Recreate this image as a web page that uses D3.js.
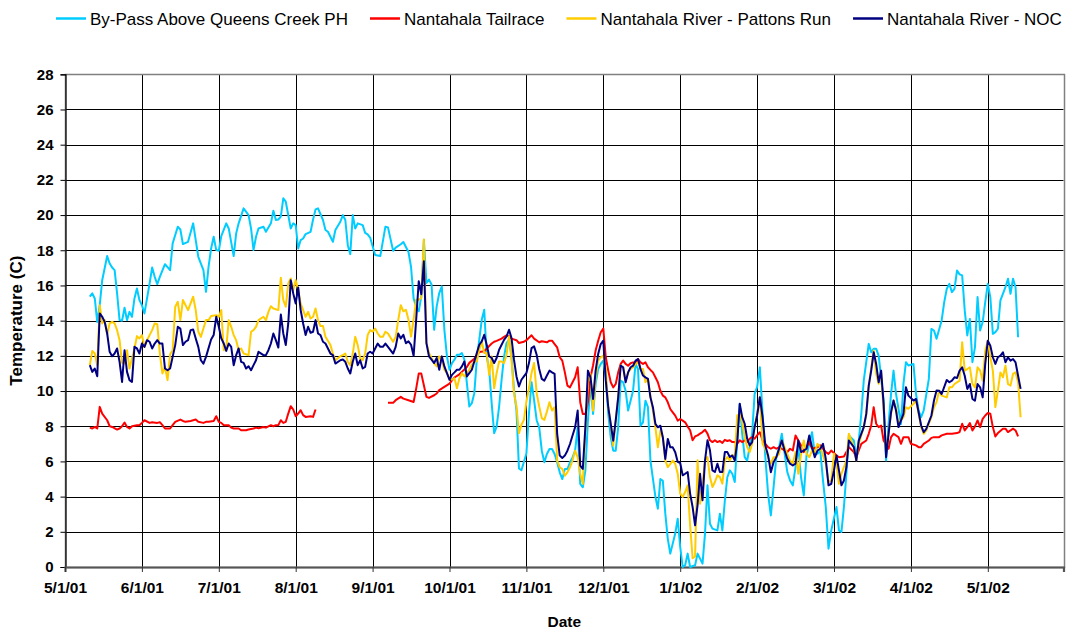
<!DOCTYPE html>
<html>
<head>
<meta charset="utf-8">
<script src="https://cdn.jsdelivr.net/npm/d3@7"></script>
<style>
  body { margin: 0; background: #fff; }
  svg text { font-family: "Liberation Sans", Arial, sans-serif; fill: #000; }
</style>
</head>
<body>
<svg id="chart" width="1073" height="633"></svg>
<script>
// ---- Data: daily water temperature (C), as [days after 5/1/01, temp] ----
const seriesNames = [
  "By-Pass Above Queens Creek PH",
  "Nantahala Tailrace",
  "Nantahala River - Pattons Run",
  "Nantahala River - NOC"
];

const bypass = [[10,15.36],[11,15.55],[12,15.26],[13,13.93],[14,14.88],[15,16.30],[17,17.67],[18,17.25],[19,17.02],[20,16.87],[21,15.55],[22,14.03],[23,13.99],[24,14.73],[25,14.03],[26,14.50],[27,14.22],[28,15.26],[29,15.83],[30,15.17],[31,14.88],[32,14.41],[34,16.11],[35,17.02],[36,16.49],[37,16.08],[38,16.49],[40,17.21],[42,16.87],[43,18.39],[45,19.34],[46,19.18],[47,18.35],[49,18.48],[51,19.53],[52,18.58],[53,17.63],[55,16.87],[56,15.64],[57,17.06],[58,18.10],[59,18.77],[60,18.01],[61,17.97],[62,18.81],[64,19.53],[65,19.24],[67,17.67],[68,18.96],[69,19.53],[71,20.38],[73,20.0],[74,19.24],[75,18.01],[76,18.77],[77,19.24],[79,19.34],[80,19.05],[82,19.53],[83,20.25],[84,19.72],[85,19.75],[86,19.91],[87,20.95],[88,20.76],[90,19.24],[91,19.53],[92,19.43],[93,18.10],[94,18.58],[95,18.67],[96,18.92],[98,19.05],[99,19.75],[100,20.32],[101,20.38],[103,19.72],[104,19.15],[105,19.05],[107,18.48],[108,19.15],[110,19.62],[111,20.0],[112,19.72],[113,18.29],[114,17.78],[115,20.0],[116,19.24],[117,19.53],[119,19.43],[120,18.99],[121,18.9],[122,18.72],[124,17.73],[126,17.67],[128,19.34],[129,19.30],[131,17.97],[132,18.15],[134,18.34],[135,18.47],[137,17.9],[138,17.05],[139,15.25],[140,14.81],[141,14.53],[142,15.38],[143,18.6],[144,16.14],[145,16.33],[146,16.05],[147,13.48],[148,14.81],[149,15.57],[150,15.95],[151,13.48],[152,11.97],[153,11.21],[154,11.59],[155,11.78],[156,12.06],[157,12.06],[158,12.16],[159,11.78],[160,10.45],[161,9.12],[162,9.31],[163,9.88],[164,11.78],[165,12.92],[166,14.05],[167,14.62],[168,11.97],[169,11.21],[170,9.31],[171,7.60],[172,7.98],[173,9.12],[174,10.64],[175,11.97],[176,12.73],[177,12.92],[178,11.97],[179,10.07],[180,8.9],[181,5.6],[182,5.5],[184,6.45],[185,8.72],[186,10.5],[187,9.48],[188,8.34],[189,7.94],[190,6.61],[191,5.95],[192,6.42],[193,6.71],[194,6.71],[195,6.42],[196,5.95],[197,5.38],[198,5.0],[199,5.57],[200,5.57],[201,5.95],[202,6.23],[203,6.61],[204,7.94],[205,4.72],[206,4.53],[207,5.48],[208,8.32],[209,10.40],[210,8.70],[211,10.40],[212,11.25],[213,11.54],[214,11.73],[215,10.78],[216,8.70],[217,7.37],[218,6.61],[219,6.61],[220,7.94],[221,10.59],[222,10.50],[223,10.02],[224,8.89],[225,9.45],[226,10.02],[227,11.54],[228,11.25],[229,8.03],[230,8.22],[231,9.45],[232,9.08],[233,6.05],[235,4.0],[236,3.31],[237,5.0],[238,4.9],[239,3.03],[240,1.6],[241,0.76],[243,1.9],[244,2.74],[245,1.14],[246,0.0],[247,0.1],[248,0.76],[249,0.0],[251,0.1],[252,0.76],[254,0.19],[255,1.9],[256,4.64],[257,2.46],[258,2.18],[260,2.08],[261,3.03],[262,2.08],[263,3.78],[264,5.1],[265,5.49],[266,5.3],[267,4.83],[268,7.19],[269,9.27],[270,7.57],[271,6.24],[272,6.05],[274,7.57],[275,9.84],[276,10.22],[277,11.35],[278,8.7],[279,6.24],[280,4.16],[281,2.93],[282,4.54],[283,6.24],[284,6.81],[285,7.57],[287,5.39],[288,4.92],[289,4.64],[290,5.68],[291,6.81],[292,5.1],[293,4.07],[294,6.34],[296,7.66],[297,6.43],[298,6.43],[299,6.62],[300,4.92],[301,3.41],[302,1.04],[303,2.08],[305,3.41],[306,2.08],[307,1.99],[308,3.41],[309,5.3],[310,7.47],[312,7.19],[313,6.24],[314,7.19],[315,8.7],[316,10.6],[318,12.68],[319,12.2],[320,12.4],[321,12.4],[322,12.01],[324,9.46],[325,6.05],[326,8.13],[327,9.84],[328,11.16],[329,9.84],[331,8.13],[332,10.41],[333,11.64],[334,11.45],[336,11.54],[337,9.84],[338,8.9],[339,8.51],[340,8.9],[342,10.69],[343,13.53],[344,13.44],[345,12.97],[347,14.01],[348,15.05],[349,15.81],[350,16.09],[351,15.62],[352,15.81],[353,16.85],[354,16.63],[355,16.57],[356,14.58],[357,13.16],[358,14.1],[359,11.64],[360,12.5],[361,15.34],[362,13.44],[363,13.92],[364,15.05],[365,16.09],[366,15.34],[367,13.25],[368,13.35],[369,13.54],[370,15.15],[372,15.9],[373,16.38],[374,15.53],[375,16.38],[376,15.9],[377,13.06]];

// null marks the gap in the tailrace record (no readings mid-Aug to early Sep)
const tailrace = [[10,7.92],[11,7.87],[12,7.96],[13,7.87],[14,9.1],[15,8.72],[17,8.34],[18,8.0],[19,7.96],[21,7.81],[22,7.87],[23,8.0],[24,8.21],[25,7.96],[26,7.87],[27,8.0],[29,8.06],[30,8.06],[31,8.19],[32,8.34],[34,8.19],[35,8.23],[37,8.19],[38,8.23],[39,8.06],[40,7.87],[42,7.87],[43,8.06],[44,8.25],[46,8.38],[47,8.3],[48,8.25],[50,8.3],[52,8.38],[53,8.25],[55,8.19],[56,8.25],[57,8.25],[59,8.3],[60,8.57],[61,8.25],[62,8.19],[63,8.06],[65,8.06],[66,7.92],[67,7.87],[69,7.87],[70,7.77],[72,7.77],[73,7.81],[75,7.87],[76,7.92],[77,7.89],[79,7.96],[80,7.92],[82,8.06],[83,8.0],[84,8.06],[85,8.06],[86,8.34],[87,8.19],[88,8.25],[89,8.72],[90,9.14],[91,8.95],[92,8.57],[93,8.72],[94,8.91],[95,8.63],[96,8.53],[98,8.57],[99,8.53],[100,8.95],[114,null],[129,9.33],[131,9.33],[132,9.48],[134,9.67],[135,9.57],[137,9.48],[139,9.38],[140,10.14],[141,10.99],[142,10.99],[143,10.33],[144,9.67],[145,9.61],[147,9.76],[148,9.86],[149,10.05],[151,10.24],[153,10.42],[154,10.61],[155,10.77],[157,10.95],[158,11.09],[160,11.37],[161,11.6],[163,11.84],[164,12.03],[165,12.22],[167,12.26],[168,12.41],[170,12.7],[171,12.8],[172,12.85],[174,12.98],[175,13.08],[176,13.17],[177,13.11],[178,12.98],[180,12.89],[181,12.73],[183,12.8],[184,12.89],[186,13.17],[187,12.98],[189,12.77],[190,12.83],[192,12.77],[193,12.86],[194,12.86],[195,12.67],[196,12.48],[197,11.92],[198,11.73],[199,11.06],[200,10.31],[201,10.21],[202,10.50],[203,10.78],[204,11.35],[205,9.36],[206,8.70],[207,8.70],[208,9.36],[209,10.78],[210,11.45],[211,12.30],[212,12.86],[213,13.34],[214,13.55],[215,11.92],[216,11.16],[217,10.50],[218,10.21],[219,10.40],[220,11.06],[221,11.54],[222,11.73],[223,11.54],[224,11.44],[225,11.58],[226,11.63],[227,11.54],[228,11.82],[229,11.63],[230,11.54],[231,11.63],[232,11.35],[233,11.20],[234,11.06],[235,10.78],[236,10.50],[237,10.02],[238,9.74],[239,9.64],[240,9.36],[241,8.98],[242,8.79],[243,8.60],[244,8.32],[245,8.41],[246,8.32],[247,8.22],[248,7.98],[249,7.77],[250,7.20],[251,7.42],[252,7.48],[253,7.58],[254,7.67],[255,7.80],[256,7.58],[257,7.20],[258,7.10],[259,7.20],[260,7.10],[261,7.16],[262,7.05],[263,7.23],[264,7.16],[265,7.20],[266,7.10],[267,7.10],[268,7.01],[269,7.20],[270,7.10],[271,7.20],[272,7.10],[273,7.29],[274,7.39],[275,7.29],[276,7.48],[277,7.66],[278,7.20],[279,7.0],[280,6.81],[281,6.72],[282,6.81],[283,6.72],[284,6.81],[285,6.72],[287,6.53],[288,6.72],[289,6.62],[290,7.47],[292,6.91],[293,6.53],[294,6.81],[295,7.1],[296,6.72],[298,6.81],[299,6.91],[300,6.72],[301,6.53],[302,6.43],[303,6.62],[305,6.34],[306,6.24],[308,6.28],[309,6.53],[310,6.81],[312,6.53],[313,6.24],[314,6.62],[315,7.0],[317,7.19],[318,7.57],[319,8.04],[320,9.08],[321,8.14],[322,7.95],[323,8.04],[324,7.19],[326,6.72],[327,7.38],[328,7.57],[330,7.38],[331,7.0],[332,7.38],[334,7.38],[335,7.0],[337,6.91],[338,6.81],[339,6.81],[340,7.0],[342,7.19],[343,7.34],[344,7.38],[346,7.38],[347,7.48],[349,7.57],[351,7.57],[353,7.61],[354,7.67],[355,8.14],[356,7.76],[357,7.95],[358,8.18],[359,7.76],[360,7.99],[361,8.33],[362,7.95],[363,8.42],[364,8.61],[365,8.75],[366,8.71],[367,7.95],[368,7.42],[369,7.61],[371,7.86],[372,7.86],[373,7.67],[374,7.76],[375,7.86],[376,7.76],[377,7.42]];

const pattonsRun = [[10,11.47],[11,12.28],[12,12.13],[13,11.47],[14,14.88],[15,13.84],[16,14.03],[17,13.23],[18,13.84],[19,13.93],[20,13.84],[21,13.46],[22,12.89],[23,11.60],[24,11.56],[25,12.32],[26,11.28],[27,11.85],[28,12.42],[29,13.12],[30,12.99],[31,13.18],[32,12.51],[33,12.89],[34,13.18],[35,13.46],[36,13.84],[37,13.80],[38,12.13],[39,11.0],[40,11.37],[41,10.62],[42,12.09],[43,12.32],[44,14.79],[45,15.07],[46,14.03],[47,15.17],[49,14.60],[50,14.98],[51,15.36],[52,14.60],[53,13.37],[54,13.08],[55,13.55],[56,14.03],[57,14.03],[58,14.26],[60,14.31],[61,14.22],[62,14.60],[63,12.32],[64,12.42],[65,14.03],[66,13.65],[67,13.18],[68,12.89],[69,12.32],[70,12.42],[71,12.13],[73,12.04],[74,13.37],[75,13.46],[76,13.65],[77,14.03],[79,14.22],[80,14.03],[81,14.50],[82,14.82],[83,14.69],[85,14.60],[86,16.44],[87,15.17],[88,14.79],[89,16.11],[90,16.40],[91,15.73],[92,16.30],[93,15.73],[94,14.98],[95,14.60],[96,14.22],[97,14.50],[98,14.12],[99,14.22],[100,14.69],[101,14.03],[102,13.69],[103,13.69],[104,13.08],[106,12.61],[107,12.13],[108,11.75],[110,11.98],[111,12.04],[112,12.13],[113,11.66],[114,11.47],[115,12.13],[116,13.08],[117,12.61],[118,11.85],[119,11.75],[120,12.13],[121,13.18],[122,13.46],[123,13.37],[124,13.55],[125,13.27],[126,13.08],[127,13.08],[128,13.37],[129,13.27],[131,12.80],[132,13.08],[133,14.03],[134,14.88],[135,14.53],[136,14.62],[137,14.05],[138,13.10],[139,14.05],[140,15.19],[141,15.19],[142,15.29],[143,18.61],[144,12.73],[145,12.16],[146,11.87],[147,11.59],[148,11.40],[149,11.97],[150,11.78],[151,11.21],[152,11.02],[153,10.73],[154,10.64],[155,10.73],[156,10.16],[157,10.73],[158,11.02],[159,10.83],[160,11.02],[161,11.21],[162,11.49],[163,11.68],[164,11.68],[165,12.35],[166,12.82],[167,12.16],[168,12.16],[169,10.92],[170,11.97],[171,10.16],[172,11.02],[173,11.68],[174,11.68],[175,11.59],[176,12.06],[177,13.10],[178,11.78],[179,9.88],[180,9.12],[181,7.60],[182,8.08],[183,8.36],[184,9.40],[185,10.16],[186,11.02],[187,11.59],[188,9.88],[189,9.12],[190,8.46],[191,8.36],[192,8.83],[193,9.36],[194,8.89],[195,9.08],[196,6.05],[197,5.67],[198,5.57],[199,5.19],[200,5.38],[201,5.67],[202,6.05],[203,6.61],[204,6.23],[205,5.29],[206,4.72],[207,7.75],[208,10.50],[209,10.97],[210,8.89],[211,10.78],[212,11.73],[213,11.92],[214,12.01],[215,11.25],[216,9.08],[217,8.13],[218,6.90],[219,8.32],[220,9.64],[221,11.44],[222,11.35],[223,10.59],[224,11.06],[225,11.25],[226,11.35],[227,11.54],[228,11.63],[229,11.25],[230,11.25],[231,10.50],[232,10.69],[233,9.74],[234,8.89],[235,7.94],[236,6.80],[237,7.75],[238,7.37],[239,6.05],[240,5.67],[241,5.86],[242,6.05],[243,5.86],[244,5.3],[245,4.17],[246,3.98],[247,4.26],[248,4.64],[249,2.37],[250,0.5],[251,0.6],[252,6.06],[253,3.60],[254,4.73],[255,6.06],[256,6.25],[257,5.11],[258,4.55],[259,4.83],[260,5.21],[261,5.11],[262,4.73],[263,6.06],[264,6.25],[265,6.06],[266,6.34],[267,6.34],[268,8.62],[269,8.71],[270,8.24],[271,7.39],[272,6.82],[273,6.53],[274,7.01],[275,7.95],[276,8.70],[277,9.65],[278,7.0],[279,6.72],[280,6.24],[281,5.87],[282,6.24],[283,6.24],[284,6.43],[285,7.19],[287,6.43],[288,6.05],[289,5.87],[290,6.53],[291,5.30],[292,6.43],[293,7.19],[294,6.43],[295,6.24],[296,6.62],[297,6.53],[298,7.00],[299,6.81],[301,5.87],[302,4.83],[303,4.92],[304,6.43],[305,5.87],[306,4.73],[307,5.30],[309,6.05],[310,7.57],[312,6.81],[313,6.05],[314,7.00],[316,7.95],[317,8.61],[318,10.22],[319,11.35],[320,12.30],[321,10.97],[322,10.41],[323,11.07],[324,8.89],[325,6.43],[326,7.57],[327,8.70],[328,9.46],[329,9.08],[330,8.14],[332,8.51],[333,9.08],[334,8.99],[336,9.27],[337,9.46],[338,8.70],[339,7.95],[340,7.57],[341,7.76],[343,8.51],[344,9.08],[345,9.37],[346,10.02],[347,9.74],[349,9.64],[350,10.21],[351,10.21],[352,10.40],[354,10.59],[355,12.77],[356,11.16],[357,11.25],[358,11.35],[359,10.40],[360,10.21],[361,11.35],[362,11.16],[363,10.59],[364,12.30],[365,12.86],[366,11.92],[367,11.16],[368,9.08],[369,10.02],[370,11.06],[371,10.78],[372,11.44],[373,10.40],[374,10.31],[375,10.97],[376,11.06],[377,10.50],[378,8.51]];

const noc = [[10,11.47],[11,11.09],[12,11.28],[13,10.84],[14,14.41],[15,14.22],[16,13.93],[17,13.27],[18,12.23],[19,11.98],[20,12.13],[21,12.42],[22,11.66],[23,10.52],[24,12.32],[25,11.09],[26,10.62],[27,10.52],[28,12.51],[29,12.42],[30,12.13],[31,12.70],[32,12.51],[33,12.89],[34,12.80],[35,12.42],[36,12.70],[37,12.89],[38,12.70],[39,12.70],[40,11.28],[41,11.18],[42,11.28],[43,11.94],[44,12.61],[45,13.65],[46,13.55],[47,12.61],[48,12.80],[49,12.89],[50,13.46],[51,13.50],[52,12.99],[53,12.51],[54,11.75],[55,11.56],[56,11.94],[58,12.93],[59,13.18],[60,14.22],[61,13.65],[62,12.99],[63,12.70],[64,12.28],[65,12.70],[66,12.51],[67,11.47],[68,12.04],[69,12.42],[70,11.66],[71,11.60],[72,11.28],[73,11.41],[74,11.18],[75,11.47],[76,11.75],[77,12.23],[79,12.04],[80,12.04],[81,12.32],[82,12.70],[83,13.27],[84,12.89],[85,12.47],[86,14.35],[87,13.27],[88,12.61],[89,13.84],[90,16.30],[91,15.55],[92,14.98],[93,15.89],[94,14.60],[95,13.84],[96,13.18],[97,13.65],[98,13.31],[99,13.37],[100,14.03],[101,13.27],[102,13.18],[103,12.80],[104,12.70],[106,12.13],[107,12.04],[108,11.56],[110,11.75],[111,11.79],[112,11.66],[113,11.28],[114,11.0],[115,11.66],[116,12.13],[117,11.47],[118,11.75],[119,11.28],[120,11.37],[121,12.13],[122,12.23],[123,12.13],[124,12.42],[125,12.70],[126,12.51],[127,12.51],[128,12.70],[129,12.51],[131,12.13],[132,12.51],[133,13.27],[134,12.99],[135,13.20],[136,12.72],[137,12.82],[138,12.63],[139,12.00],[140,14.05],[141,16.24],[142,15.5],[143,17.37],[144,12.72],[145,11.97],[146,11.78],[147,11.59],[148,11.88],[149,11.21],[150,11.97],[151,11.40],[152,11.02],[153,10.64],[154,10.92],[155,11.06],[156,11.21],[157,11.21],[158,11.40],[159,11.68],[160,10.83],[161,11.02],[162,11.21],[163,11.68],[164,12.16],[165,12.63],[166,12.82],[167,13.20],[168,12.63],[169,11.97],[170,11.88],[171,11.59],[172,11.88],[173,12.35],[174,12.63],[175,12.91],[176,13.10],[177,13.48],[178,13.01],[179,11.78],[180,10.83],[181,10.26],[182,10.64],[183,10.83],[184,11.02],[185,11.59],[186,12.44],[187,12.54],[188,12.06],[189,11.25],[190,10.69],[191,10.59],[192,10.88],[193,11.16],[194,11.06],[195,10.97],[196,7.56],[197,6.33],[198,6.20],[199,6.33],[200,6.61],[201,6.99],[202,7.47],[203,7.94],[204,8.89],[205,5.76],[206,5.57],[207,7.94],[208,11.16],[209,10.78],[210,9.55],[211,11.16],[212,12.11],[213,12.67],[214,12.86],[215,10.59],[216,9.08],[217,8.13],[218,7.18],[219,8.32],[220,9.64],[221,11.44],[222,11.35],[223,10.50],[224,11.06],[225,11.35],[226,11.44],[227,11.73],[228,11.82],[229,11.25],[230,10.88],[231,10.78],[232,10.69],[233,9.64],[234,9.08],[235,8.13],[236,7.94],[237,8.03],[238,7.37],[239,6.14],[240,7.28],[241,6.80],[242,6.80],[243,6.52],[244,5.97],[245,5.91],[246,5.21],[247,5.30],[248,5.40],[249,4.17],[250,3.41],[251,2.37],[252,3.52],[253,5.30],[254,3.79],[255,6.06],[256,7.20],[257,6.63],[258,5.49],[259,5.40],[260,5.87],[261,5.40],[262,5.40],[263,6.53],[264,6.53],[265,6.25],[266,6.34],[267,6.06],[268,7.10],[269,9.28],[270,8.52],[271,8.14],[272,7.29],[273,6.91],[274,7.10],[275,7.95],[276,8.61],[277,9.65],[278,8.51],[279,6.91],[280,6.34],[281,5.39],[282,5.96],[283,6.24],[284,6.72],[285,7.19],[286,6.62],[287,6.15],[288,5.87],[289,5.77],[290,5.87],[291,7.19],[292,6.53],[293,6.62],[294,6.72],[295,7.47],[296,6.81],[297,6.24],[298,6.62],[299,6.72],[300,7.00],[301,6.15],[302,4.64],[303,4.73],[304,5.49],[305,6.34],[306,5.49],[307,4.64],[308,4.92],[309,5.68],[310,7.19],[312,6.81],[313,6.05],[314,7.19],[316,7.95],[317,8.70],[318,10.31],[319,11.16],[320,12.20],[321,11.54],[322,10.50],[323,11.16],[324,9.27],[325,6.24],[326,7.57],[327,8.80],[328,9.46],[329,8.89],[330,7.95],[332,8.70],[333,10.22],[334,9.74],[336,9.46],[337,9.55],[338,8.80],[339,8.04],[340,7.66],[341,7.85],[343,8.61],[344,9.46],[345,10.03],[346,10.02],[347,9.83],[349,10.63],[350,10.50],[351,10.59],[352,10.78],[353,10.74],[354,11.16],[355,11.35],[356,10.87],[357,10.12],[358,10.40],[359,9.55],[360,9.45],[361,10.40],[362,10.21],[363,9.64],[364,11.54],[365,12.86],[366,12.58],[367,11.92],[368,11.54],[369,11.92],[370,12.01],[371,12.20],[372,11.63],[373,11.92],[374,11.73],[375,11.82],[376,11.63],[377,10.87],[378,10.12]];

const xTickLabels = ["5/1/01","6/1/01","7/1/01","8/1/01","9/1/01","10/1/01","11/1/01","12/1/01","1/1/02","2/1/02","3/1/02","4/1/02","5/1/02"];
const yTickValues = [0,2,4,6,8,10,12,14,16,18,20,22,24,26,28];

// ---- Presentation ----
const colors = ["#00CCFF", "#FF0000", "#FFCC00", "#000080"];
const plot = { left: 65, right: 1063.5, top: 74.3, bottom: 567 };
const monthStep = 76.9;

const svg = d3.select("#chart");
svg.append("rect").attr("width", 1073).attr("height", 633).attr("fill", "#fff");

const startDate = new Date(2001, 4, 1);
const toDate = d => d3.timeDay.offset(startDate, d);

// Month starts are evenly spaced along the date axis
const monthStarts = xTickLabels.map(s => d3.timeParse("%m/%d/%y")(s));
const axisEnd = new Date(2002, 4, 31);
const x = d3.scaleTime()
  .domain([...monthStarts, axisEnd])
  .range([...monthStarts.map((_, i) => plot.left + i * monthStep), plot.right]);

const y = d3.scaleLinear().domain([0, 28]).range([plot.bottom, plot.top]);

const crisp = v => Math.round(v) + 0.5;

// Horizontal gridlines
svg.append("g").selectAll("line")
  .data(yTickValues.filter(v => v > 0 && v < 28))
  .join("line")
  .attr("x1", plot.left).attr("x2", plot.right)
  .attr("y1", d => crisp(y(d))).attr("y2", d => crisp(y(d)))
  .attr("stroke", "#000").attr("stroke-width", 1);

// Vertical gridlines at month starts
svg.append("g").selectAll("line")
  .data(monthStarts.slice(1))
  .join("line")
  .attr("x1", d => crisp(x(d))).attr("x2", d => crisp(x(d)))
  .attr("y1", plot.top).attr("y2", plot.bottom)
  .attr("stroke", "#000").attr("stroke-width", 1);

// Plot-area frame
svg.append("rect")
  .attr("x", crisp(plot.left)).attr("y", crisp(plot.top))
  .attr("width", Math.round(plot.right) - Math.round(plot.left))
  .attr("height", Math.round(plot.bottom) - Math.round(plot.top))
  .attr("fill", "none").attr("stroke", "#808080").attr("stroke-width", 1.5);

// Y axis
const yAxis = svg.append("g")
  .attr("transform", `translate(${crisp(plot.left)},0)`)
  .call(d3.axisLeft(y).tickValues(yTickValues).tickSize(5).tickPadding(7).tickFormat(d3.format("d")));
yAxis.select(".domain").attr("stroke", "#000").attr("stroke-width", 1.2);
yAxis.selectAll(".tick line").attr("stroke", "#000");
yAxis.selectAll(".tick text")
  .attr("font-family", '"Liberation Sans", Arial, sans-serif')
  .attr("font-size", 15).attr("font-weight", "bold").attr("fill", "#000");

// X axis
const xAxis = svg.append("g")
  .attr("transform", `translate(0,${plot.bottom})`)
  .call(d3.axisBottom(x).tickValues(monthStarts).tickSize(5).tickPadding(10)
    .tickFormat((d, i) => xTickLabels[i]));
xAxis.select(".domain").attr("stroke", "#555").attr("stroke-width", 2.2);
xAxis.selectAll(".tick line").attr("stroke", "#333").attr("stroke-width", 1);
xAxis.selectAll(".tick text")
  .attr("font-family", '"Liberation Sans", Arial, sans-serif')
  .attr("font-size", 15.5).attr("font-weight", "bold").attr("fill", "#000");

// Series lines
const line = d3.line()
  .defined(d => d[1] !== null)
  .x(d => x(toDate(d[0])))
  .y(d => y(d[1]));

const allSeries = [bypass, tailrace, pattonsRun, noc];
svg.append("g").selectAll("path")
  .data(allSeries)
  .join("path")
  .attr("d", line)
  .attr("fill", "none")
  .attr("stroke", (d, i) => colors[i])
  .attr("stroke-width", 2)
  .attr("stroke-linejoin", "round");

// Axis titles
svg.append("text")
  .attr("x", (plot.left + plot.right) / 2).attr("y", 627)
  .attr("text-anchor", "middle")
  .attr("font-size", 15.5).attr("font-weight", "bold")
  .text("Date");

svg.append("text")
  .attr("transform", `translate(22,${(plot.top + plot.bottom) / 2}) rotate(-90)`)
  .attr("text-anchor", "middle")
  .attr("font-size", 17).attr("font-weight", "bold")
  .text("Temperature (C)");

// Legend across the top
const legend = svg.append("g");
let lx = 56;
seriesNames.forEach((name, i) => {
  const g = legend.append("g");
  g.append("line")
    .attr("x1", lx).attr("x2", lx + 30).attr("y1", 18.5).attr("y2", 18.5)
    .attr("stroke", colors[i]).attr("stroke-width", 2.5);
  const t = g.append("text")
    .attr("x", lx + 34).attr("y", 24.5)
    .attr("font-size", 17)
    .text(name);
  lx += 34 + t.node().getComputedTextLength() + 22;
});
</script>
</body>
</html>
